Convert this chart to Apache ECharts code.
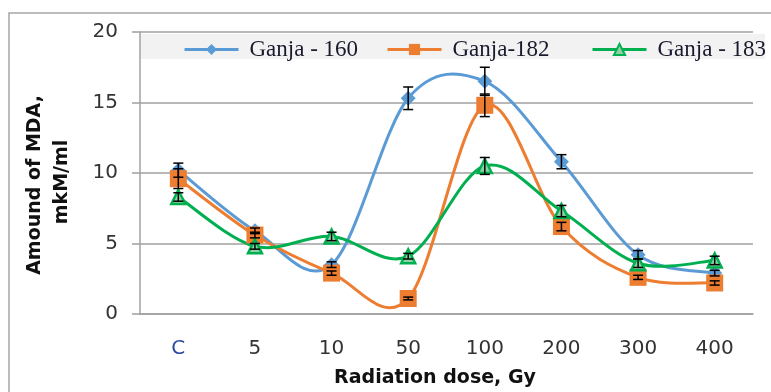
<!DOCTYPE html>
<html>
<head>
<meta charset="utf-8">
<script src="https://cdn.jsdelivr.net/npm/echarts@6/dist/echarts.min.js"></script>
<style>
html,body{margin:0;padding:0;background:#fff;}
#chart{width:771px;height:392px;}
</style>
</head>
<body>
<div id="chart"></div>
<script>
const categories = ['C', '5', '10', '50', '100', '200', '300', '400'];
const ganja160 = [10.2, 5.9, 3.5, 15.3, 16.5, 10.8, 4.2, 2.9];
const ganja182 = [9.6, 5.6, 2.9, 1.1, 14.8, 6.2, 2.6, 2.2];
const ganja183 = [8.3, 4.8, 5.5, 4.1, 10.5, 7.3, 3.6, 3.8];
const err160 = [0.5, 0.2, 0.2, 0.8, 1.0, 0.5, 0.3, 0.2];
const err182 = [0.7, 0.2, 0.15, 0.1, 0.8, 0.3, 0.15, 0.15];
const err183 = [0.3, 0.2, 0.3, 0.2, 0.6, 0.4, 0.3, 0.3];
const seriesNames = ['Ganja - 160', 'Ganja-182', 'Ganja - 183'];
const yTicks = [0, 5, 10, 15, 20];
const xTitle = 'Radiation dose, Gy';
const yTitle = ['Amound of MDA,', 'mkM/ml'];

const BLUE = '#5b9bd5', ORANGE = '#ed7d31', GREEN = '#00b050';
const FONT = 'DejaVu Sans';

// Smooth curve (Catmull-Rom style, like spreadsheet smoothed lines) drawn through the axis scales
function curveSeries(vals, color, name) {
  return {
    type: 'custom',
    name: name + ' curve',
    z: 2,
    silent: true,
    data: vals.map((v, i) => [i, v]),
    renderItem: function (params, api) {
      const i = params.dataIndex;
      const n = vals.length;
      if (i >= n - 1) return null;
      const p = k => api.coord([Math.max(0, Math.min(n - 1, k)), vals[Math.max(0, Math.min(n - 1, k))]]);
      const p0 = p(i - 1), p1 = p(i), p2 = p(i + 1), p3 = p(i + 2);
      const t = 6;
      const c1 = [p1[0] + (p2[0] - p0[0]) / t, p1[1] + (p2[1] - p0[1]) / t];
      const c2 = [p2[0] - (p3[0] - p1[0]) / t, p2[1] - (p3[1] - p1[1]) / t];
      return {
        type: 'bezierCurve',
        shape: { x1: p1[0], y1: p1[1], x2: p2[0], y2: p2[1], cpx1: c1[0], cpy1: c1[1], cpx2: c2[0], cpy2: c2[1] },
        style: { stroke: color, lineWidth: 3, fill: 'none', lineCap: 'round' }
      };
    }
  };
}

function errSeries(vals, errs, name) {
  return {
    type: 'custom',
    name: name + ' err',
    z: 5,
    silent: true,
    data: vals.map((v, i) => [i, v - errs[i], v + errs[i]]),
    renderItem: function (params, api) {
      const lo = api.coord([api.value(0), api.value(1)]);
      const hi = api.coord([api.value(0), api.value(2)]);
      const w = 5;
      const st = { stroke: '#000', lineWidth: 1.5 };
      return {
        type: 'group',
        children: [
          { type: 'line', shape: { x1: lo[0], y1: lo[1], x2: hi[0], y2: hi[1] }, style: st },
          { type: 'line', shape: { x1: lo[0] - w, y1: lo[1], x2: lo[0] + w, y2: lo[1] }, style: st },
          { type: 'line', shape: { x1: hi[0] - w, y1: hi[1], x2: hi[0] + w, y2: hi[1] }, style: st }
        ]
      };
    }
  };
}

function legendFor(name, left, color) {
  return {
    data: [name],
    left: left,
    top: 33,
    itemWidth: 54,
    itemHeight: 14,
    itemGap: 0,
    lineStyle: { color: color, width: 3, opacity: 1 },
    textStyle: { fontFamily: 'Liberation Serif', fontSize: 23, color: '#1a1a2e', padding: [0, 0, 0, 6] }
  };
}

const chart = echarts.init(document.getElementById('chart'), null, { renderer: 'canvas' });
chart.setOption({
  animation: false,
  backgroundColor: '#fff',
  graphic: [
    { type: 'rect', shape: { x: 9, y: 13, width: 800, height: 420 }, style: { fill: 'none', stroke: '#a6a6a6', lineWidth: 1.5 }, z: -10 },
    { type: 'rect', shape: { x: 141, y: 34, width: 624, height: 25 }, style: { fill: '#f2f2f2' }, z: 0 },
    { type: 'text', x: 35, y: 185, rotation: Math.PI / 2, style: { text: yTitle[0], font: 'bold 19px "DejaVu Sans"', fill: '#111', textAlign: 'center', textVerticalAlign: 'middle' } },
    { type: 'text', x: 62, y: 182, rotation: Math.PI / 2, style: { text: yTitle[1], font: 'bold 19px "DejaVu Sans"', fill: '#111', textAlign: 'center', textVerticalAlign: 'middle' } },
    { type: 'text', x: 435, y: 378, style: { text: xTitle, font: 'bold 19px "DejaVu Sans"', fill: '#111', textAlign: 'center', textVerticalAlign: 'middle' } }
  ],
  legend: [
    legendFor(seriesNames[0], 178, BLUE),
    legendFor(seriesNames[1], 381, ORANGE),
    legendFor(seriesNames[2], 586, GREEN)
  ],
  grid: { left: 140, right: 18, top: 32, bottom: 78 },
  xAxis: {
    type: 'category',
    data: categories,
    boundaryGap: true,
    axisLine: { lineStyle: { color: '#a0a0a0', width: 1.5 } },
    axisTick: { length: 9, lineStyle: { color: '#a0a0a0', width: 1.5 } },
    axisLabel: {
      margin: 25,
      fontFamily: FONT,
      fontSize: 20,
      color: '#333',
      formatter: function (v) { return v === 'C' ? '{c|C}' : v; },
      rich: { c: { color: '#2b4ba0', fontFamily: FONT, fontSize: 20 } }
    }
  },
  yAxis: {
    type: 'value',
    min: yTicks[0],
    max: yTicks[yTicks.length - 1],
    interval: 5,
    axisLine: { show: true, lineStyle: { color: '#a0a0a0', width: 1.5 } },
    axisTick: { show: true, length: 8, lineStyle: { color: '#a0a0a0', width: 1.5 } },
    splitLine: { lineStyle: { color: '#a0a0a0', width: 1.5 } },
    axisLabel: { margin: 22, fontFamily: FONT, fontSize: 20, color: '#333' }
  },
  series: [
    curveSeries(ganja160, BLUE, seriesNames[0]),
    curveSeries(ganja182, ORANGE, seriesNames[1]),
    curveSeries(ganja183, GREEN, seriesNames[2]),
    {
      name: seriesNames[0], type: 'line', data: ganja160,
      symbol: 'diamond', symbolSize: 15, z: 3,
      lineStyle: { color: BLUE, width: 3, opacity: 0 },
      itemStyle: { color: BLUE }
    },
    {
      name: seriesNames[1], type: 'line', data: ganja182,
      symbol: 'rect', symbolSize: 17, z: 4,
      lineStyle: { color: ORANGE, width: 3, opacity: 0 },
      itemStyle: { color: ORANGE }
    },
    {
      name: seriesNames[2], type: 'line', data: ganja183,
      symbol: 'triangle', symbolSize: 14, z: 4,
      lineStyle: { color: GREEN, width: 3, opacity: 0 },
      itemStyle: { color: '#8fd1a5', borderColor: GREEN, borderWidth: 2.5 }
    },
    errSeries(ganja160, err160, seriesNames[0]),
    errSeries(ganja182, err182, seriesNames[1]),
    errSeries(ganja183, err183, seriesNames[2])
  ]
});
</script>
</body>
</html>
